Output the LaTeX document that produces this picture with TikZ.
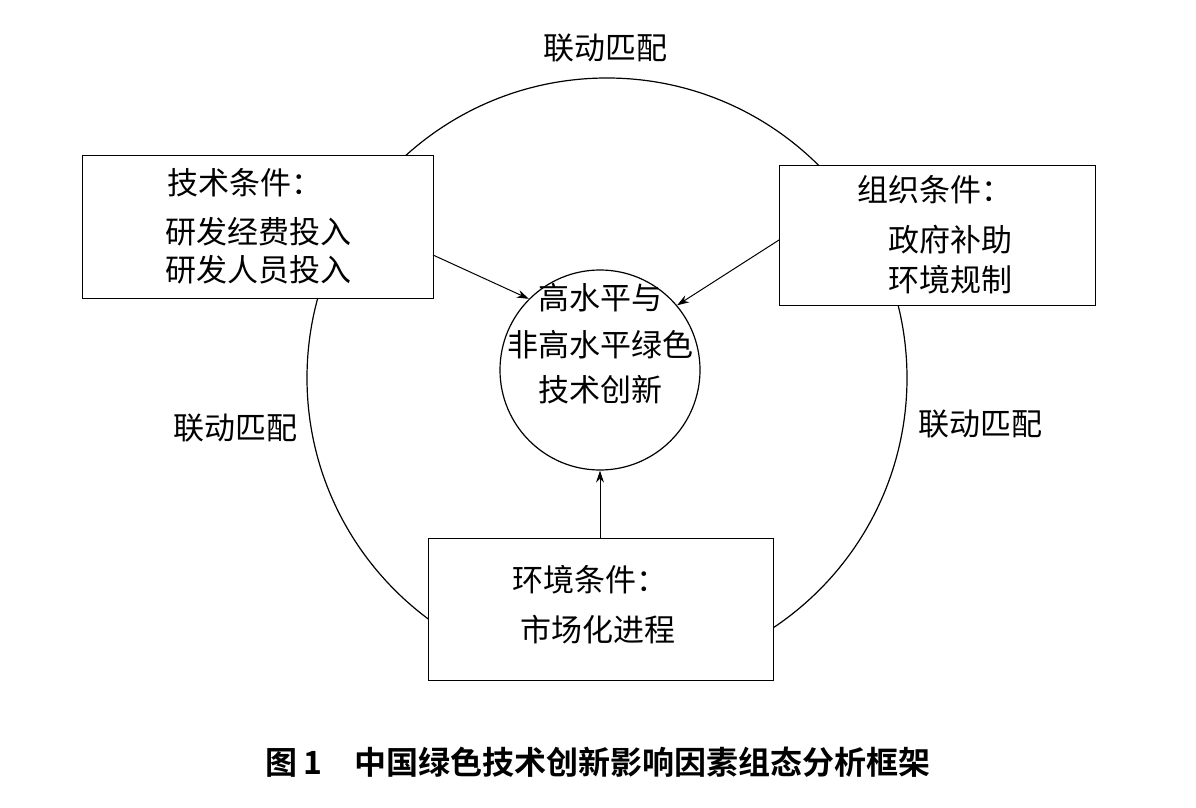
\documentclass[tikz,border=0pt]{standalone}
\usepackage{fontspec}
\usetikzlibrary{arrows.meta}
\newfontfamily\cjk{Noto Sans CJK SC}
\newfontfamily\cjkb{Noto Sans CJK SC Bold}
\begin{document}
\begin{tikzpicture}[x=1pt,y=-1pt,
 box/.style={draw,fill=white,line width=1.2pt},
 t/.style={font=\cjk\fontsize{31}{36}\selectfont,inner sep=0pt},
 arr/.style={-{Stealth[length=12pt,width=8pt]},line width=1pt}]
\useasboundingbox[fill=white] (0,0) rectangle (1196,808);
\draw[line width=1.2pt] (607,378) circle (300);
\node[box,minimum width=351pt,minimum height=143pt,anchor=north west] (L) at (82,155) {};
\node[box,minimum width=316pt,minimum height=140pt,anchor=north west] (R) at (779,165) {};
\node[box,minimum width=345pt,minimum height=142pt,anchor=north west] (B) at (428,538) {};
\node[draw,circle,line width=1.2pt,minimum size=200pt,fill=white] (C) at (600,370) {};
\node[t] at (245,183) {技术条件：};
\node[t] at (258,232) {研发经费投入};
\node[t] at (258,270) {研发人员投入};
\node[t] at (935,190) {组织条件：};
\node[t] at (950,240) {政府补助};
\node[t] at (950,280) {环境规制};
\node[t] at (590,580) {环境条件：};
\node[t] at (598,630) {市场化进程};
\node[t] at (600,298) {高水平与};
\node[t] at (600,345) {非高水平绿色};
\node[t] at (600,390) {技术创新};
\node[t] (m1) at (605,48) {联动匹配};
\node[t] (m2) at (235,428) {联动匹配};
\node[t] (m3) at (980,424) {联动匹配};
\coordinate (la) at (433,255);
\coordinate (ra) at (779,240);
\draw[arr] (la) -- (C.135);
\draw[arr] (ra) -- (C.40);
\draw[arr] (B.north -| C.south) -- (C.south);
\node[font=\cjkb\fontsize{32}{36}\selectfont,inner sep=0pt] (cap) at (598,762) {图\,1\quad 中国绿色技术创新影响因素组态分析框架};
\end{tikzpicture}
\end{document}
